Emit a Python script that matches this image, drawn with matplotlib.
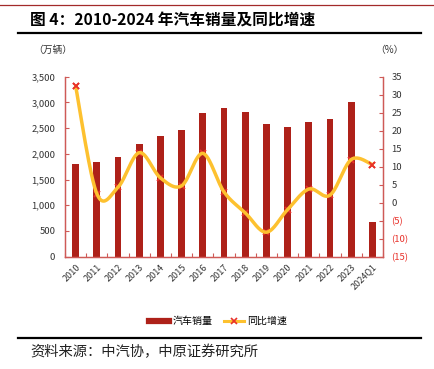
import numpy as np
import matplotlib
matplotlib.use("Agg")
import matplotlib.pyplot as plt
from matplotlib.lines import Line2D

plt.rcParams["font.family"] = ["Noto Sans CJK SC", "DejaVu Sans"]

# -----------------------------
# Data
# -----------------------------
years = ["2010", "2011", "2012", "2013", "2014", "2015", "2016", "2017",
         "2018", "2019", "2020", "2021", "2022", "2023", "2024Q1"]
sales = [1806, 1851, 1931, 2198, 2349, 2460, 2803, 2888,
         2808, 2577, 2531, 2628, 2686, 3009, 672]
growth = [32.4, 2.5, 4.3, 13.9, 6.9, 4.7, 13.7, 3.0,
          -2.8, -8.2, -1.9, 3.8, 2.1, 12.0, 10.6]

left_ticks = [0, 500, 1000, 1500, 2000, 2500, 3000, 3500]
right_ticks = [-15, -10, -5, 0, 5, 10, 15, 20, 25, 30, 35]

bar_color = "#AE2119"
line_color = "#FDC12F"
mark_color = "#E8312A"
spine_color = "#CF5A57"
text_color = "#333333"


def smooth_curve(x, y, n=30):
    # Excel-like smoothed line (cubic Bezier through the points)
    p = np.column_stack([x, y]).astype(float)
    pts = []
    for i in range(len(p) - 1):
        p0 = p[i - 1] if i > 0 else p[i]
        p1 = p[i]
        p2 = p[i + 1]
        p3 = p[i + 2] if i + 2 < len(p) else p[i + 1]
        c1 = p1 + (p2 - p0) / 6
        c2 = p2 - (p3 - p1) / 6
        t = np.linspace(0, 1, n)[:, None]
        seg = ((1 - t) ** 3 * p1 + 3 * (1 - t) ** 2 * t * c1
               + 3 * (1 - t) * t ** 2 * c2 + t ** 3 * p2)
        pts.append(seg if i == 0 else seg[1:])
    pts = np.vstack(pts)
    return pts[:, 0], pts[:, 1]


# -----------------------------
# Figure
# -----------------------------
fig = plt.figure(figsize=(4.34, 3.69), dpi=100)
ax = fig.add_axes([0.1498, 0.3043, 0.7327, 0.4878])
ax2 = ax.twinx()

x = np.arange(len(years))

ax.bar(x, sales, width=0.32, color=bar_color, zorder=2)
ax.set_xlim(-0.5, len(years) - 0.5)
ax.set_ylim(0, 3500)
ax.set_yticks(left_ticks)
ax.set_yticklabels([f"{v:,}" for v in left_ticks], fontsize=6.8, color=text_color)

ax.set_xticks(x)
ax.set_xticklabels(years, rotation=45, ha="right", va="top",
                   rotation_mode="anchor", fontsize=6.5, color=text_color)
ax.tick_params(axis="x", which="major", length=0, pad=4)
ax.set_xticks(np.arange(len(years) + 1) - 0.5, minor=True)
ax.tick_params(axis="x", which="minor", direction="in", length=3,
               color=spine_color, width=0.8)
ax.tick_params(axis="y", direction="in", length=3, color=spine_color,
               width=0.8, pad=7)

sx, sy = smooth_curve(x, growth)
ax2.plot(x, growth, linestyle="none", marker="x", color=mark_color,
         markersize=4.5, mew=1.3, zorder=3)
ax2.plot(sx, sy, color=line_color, linewidth=2.5, zorder=4,
         solid_capstyle="round")
ax2.plot([x[0], x[-1]], [growth[0], growth[-1]], linestyle="none",
         marker="x", color=mark_color, markersize=4.5, mew=1.3, zorder=5)
ax2.set_ylim(-15, 35)
ax2.set_yticks(right_ticks)
ax2.set_yticklabels([str(v) if v >= 0 else f"({-v})" for v in right_ticks],
                    fontsize=6.8)
for lab, v in zip(ax2.get_yticklabels(), right_ticks):
    lab.set_color(mark_color if v < 0 else text_color)
ax2.tick_params(axis="y", direction="in", length=3, color=spine_color,
                width=0.8, pad=6)

for a in (ax, ax2):
    a.spines["top"].set_visible(False)
    for side in ("left", "right", "bottom"):
        a.spines[side].set_color(spine_color)
        a.spines[side].set_linewidth(0.9)

# -----------------------------
# Texts and rules
# -----------------------------
fig.add_artist(Line2D([0, 1], [1 - 5 / 369, 1 - 5 / 369], color="#A32A2A",
                      linewidth=0.9))
fig.text(30 / 434, 1 - 21 / 369, "图 4：2010-2024 年汽车销量及同比增速",
         fontsize=11.3, fontweight="bold", va="center", ha="left")
fig.add_artist(Line2D([18 / 434, 421 / 434], [1 - 33 / 369, 1 - 33 / 369],
                      color="black", linewidth=1.6))
fig.text(33 / 434, 1 - 50 / 369, "（万辆）", fontsize=7, va="center",
         ha="left", color=text_color)
fig.text(375 / 434, 1 - 50 / 369, "（%）", fontsize=7, va="center",
         ha="left", color=text_color)

handles = [
    Line2D([], [], color=bar_color, linewidth=4.5),
    Line2D([], [], color=line_color, linewidth=2.2, marker="x",
           markeredgecolor=mark_color, markersize=4, mew=1.2),
]
fig.legend(handles, ["汽车销量", "同比增速"], loc="center",
           bbox_to_anchor=(0.503, 1 - 321 / 369), ncol=2, frameon=False,
           fontsize=7.2, handlelength=2.0, handletextpad=0.3,
           columnspacing=1.2)

fig.add_artist(Line2D([18 / 434, 421 / 434], [1 - 338 / 369, 1 - 338 / 369],
                      color="black", linewidth=1.6))
fig.text(30 / 434, 1 - 352 / 369, "资料来源：中汽协，中原证券研究所",
         fontsize=10.3, va="center", ha="left", color="#222222")

fig.savefig("out.png", dpi=100)
